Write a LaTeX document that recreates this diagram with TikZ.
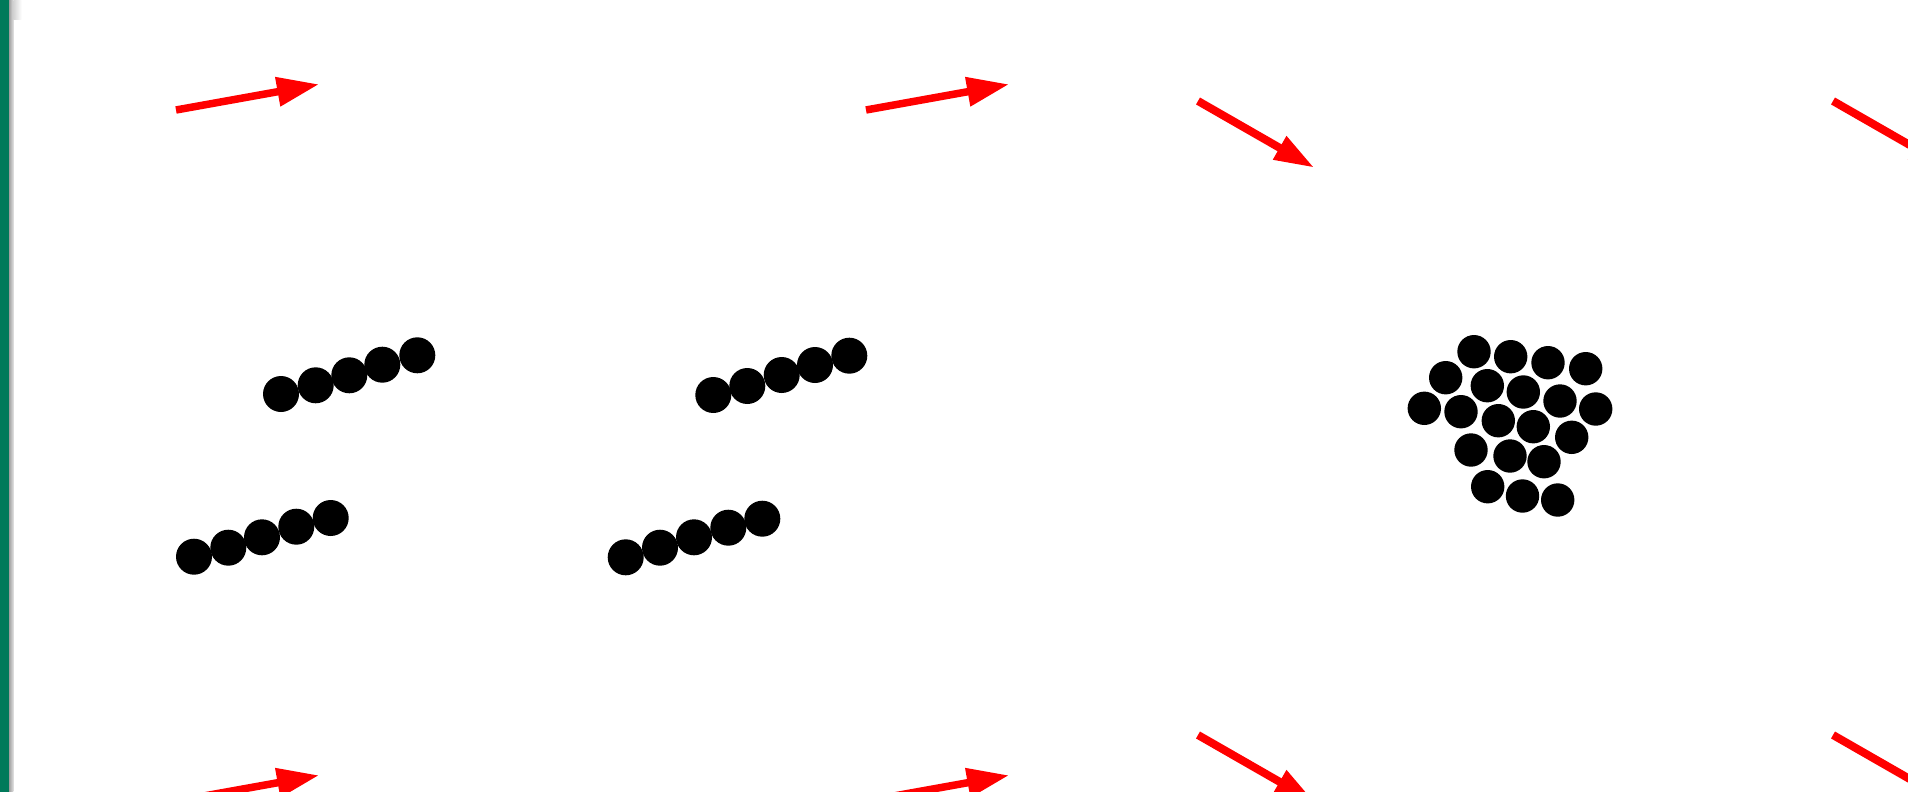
\documentclass[tikz,border=0pt]{standalone}
\usetikzlibrary{arrows.meta}
\definecolor{edgegreen}{RGB}{0,122,90}
\tikzset{
  bead/.style={fill=black},
  vecA/.style={draw=red, line width=7.5pt, -{Triangle[length=42pt,width=28pt]}},
  vecB/.style={draw=red, line width=8pt, -{Triangle[length=40pt,width=25pt]}},
}
\begin{document}
\begin{tikzpicture}[x=1pt,y=-1pt]
\useasboundingbox (0,0) rectangle (1908,792);
\clip (0,0) rectangle (1908,792);
\fill[white] (0,0) rectangle (1908,792);
% left border
\fill[edgegreen] (0,0) rectangle (9,792);
\shade[left color=gray!75, right color=gray!25] (9,0) rectangle (13.3,792);
\shade[left color=gray!35, right color=white] (13.3,0) rectangle (21.7,20);
% arrows
\coordinate (t1) at (176,110);   \coordinate (h1) at (319,84.3);
\coordinate (t2) at (866,110);   \coordinate (h2) at (1009,84.3);
\coordinate (t3) at (1198,101);  \coordinate (h3) at (1314.3,167.7);
\coordinate (t4) at (1833,101);  \coordinate (h4) at (1949.3,167.7);
\coordinate (t5) at (176,801);   \coordinate (h5) at (319,775.3);
\coordinate (t6) at (866,801);   \coordinate (h6) at (1009,775.3);
\coordinate (t7) at (1198,735);  \coordinate (h7) at (1314.3,801.7);
\coordinate (t8) at (1833,735);  \coordinate (h8) at (1949.3,801.7);
\draw[vecA] (t1) -- (h1);
\draw[vecA] (t2) -- (h2);
\draw[vecB] (t3) -- (h3);
\draw[vecB] (t4) -- (h4);
\draw[vecA] (t5) -- (h5);
\draw[vecA] (t6) -- (h6);
\draw[vecB] (t7) -- (h7);
\draw[vecB] (t8) -- (h8);
% chains
\foreach \p in {(281,394),(315.7,385.3),(349.3,375.3),(382.3,364.7),(417.3,355.3),
                (194,556.7),(228.3,547.7),(262,537.3),(296.3,526.7),(330.7,518),
                (713.3,395),(747.3,386),(781.7,375),(815,365),(849.3,355.7),
                (625.7,557.3),(660,547.7),(694,537.3),(728.3,527.7),(762.3,518.7)}
  \fill[bead] \p circle[radius=18pt];
% cluster
\foreach \p in {(1474,351.7),(1510.7,356.7),(1548,362.7),(1585.7,368.7),
                (1445.7,377.7),(1487.3,385.7),(1523.3,392),(1560,401),(1595.7,409),
                (1424.3,408.3),(1461,411.7),(1498.3,420.7),(1533.3,426.7),(1571.7,437.3),
                (1471,450),(1510,456),(1544,461.7),
                (1487.7,486.7),(1522.5,496),(1557.7,500)}
  \fill[bead] \p circle[radius=16.7pt];
\end{tikzpicture}
\end{document}
